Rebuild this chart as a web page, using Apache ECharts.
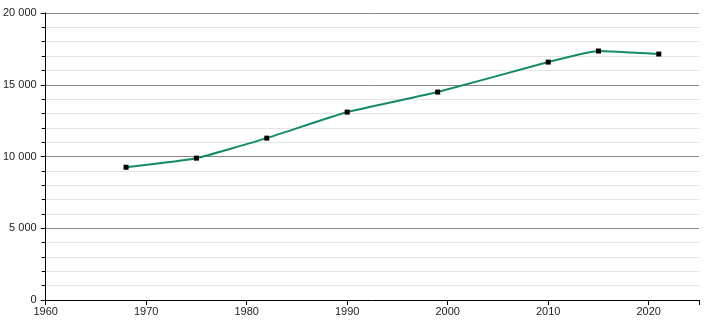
<!DOCTYPE html>
<html>
<head>
<meta charset="utf-8">
<script src="https://cdn.jsdelivr.net/npm/echarts@6/dist/echarts.min.js"></script>
<style>html,body{margin:0;padding:0;background:#fff}#c{width:710px;height:320px}</style>
</head>
<body>
<div id="c"></div>
<script>
var years = [1968, 1975, 1982, 1990, 1999, 2010, 2015, 2021];
var population = [9250, 9885, 11280, 13095, 14490, 16580, 17350, 17140];
var xTicks = [1960, 1970, 1980, 1990, 2000, 2010, 2020];
var yTicks = [0, 5000, 10000, 15000, 20000];

function fmt(v) {
  return String(v).replace(/\B(?=(\d{3})+(?!\d))/g, ' ');
}

var chart = echarts.init(document.getElementById('c'), null, {renderer: 'canvas'});
chart.setOption({
  animation: false,
  grid: {left: 42, right: 11, top: 13, bottom: 20, containLabel: false},
  xAxis: {
    type: 'value', min: 1960, max: 2025, interval: 10,
    axisLine: {show: true, onZero: false, lineStyle: {color: '#000', width: 1}},
    axisTick: {show: true, length: 5, lineStyle: {color: '#000'}},
    axisLabel: {color: '#222', fontSize: 11, fontFamily: 'Liberation Sans, Arial, sans-serif', margin: 6,
      formatter: function (v) { return xTicks.indexOf(v) >= 0 ? String(v) : ''; }},
    splitLine: {show: false}
  },
  yAxis: {
    type: 'value', min: 0, max: 20000, interval: 5000,
    axisLine: {show: true, lineStyle: {color: '#000', width: 1}},
    axisTick: {show: true, length: 5, lineStyle: {color: '#000'}},
    minorTick: {show: true, splitNumber: 5, length: 4, lineStyle: {color: '#000'}},
    axisLabel: {color: '#222', fontSize: 11, fontFamily: 'Liberation Sans, Arial, sans-serif', margin: 9,
      formatter: function (v) { return yTicks.indexOf(v) >= 0 ? fmt(v) : ''; }},
    splitLine: {show: true, lineStyle: {color: '#888', width: 1}},
    minorSplitLine: {show: true, lineStyle: {color: '#e4e4e4', width: 1}}
  },
  series: [{
    type: 'line',
    data: years.map(function (y, i) { return [y, population[i]]; }),
    smooth: 0.12,
    symbol: 'rect',
    symbolSize: 5,
    itemStyle: {color: '#000'},
    lineStyle: {color: '#138a69', width: 2},
    z: 3
  }]
});
</script>
</body>
</html>
